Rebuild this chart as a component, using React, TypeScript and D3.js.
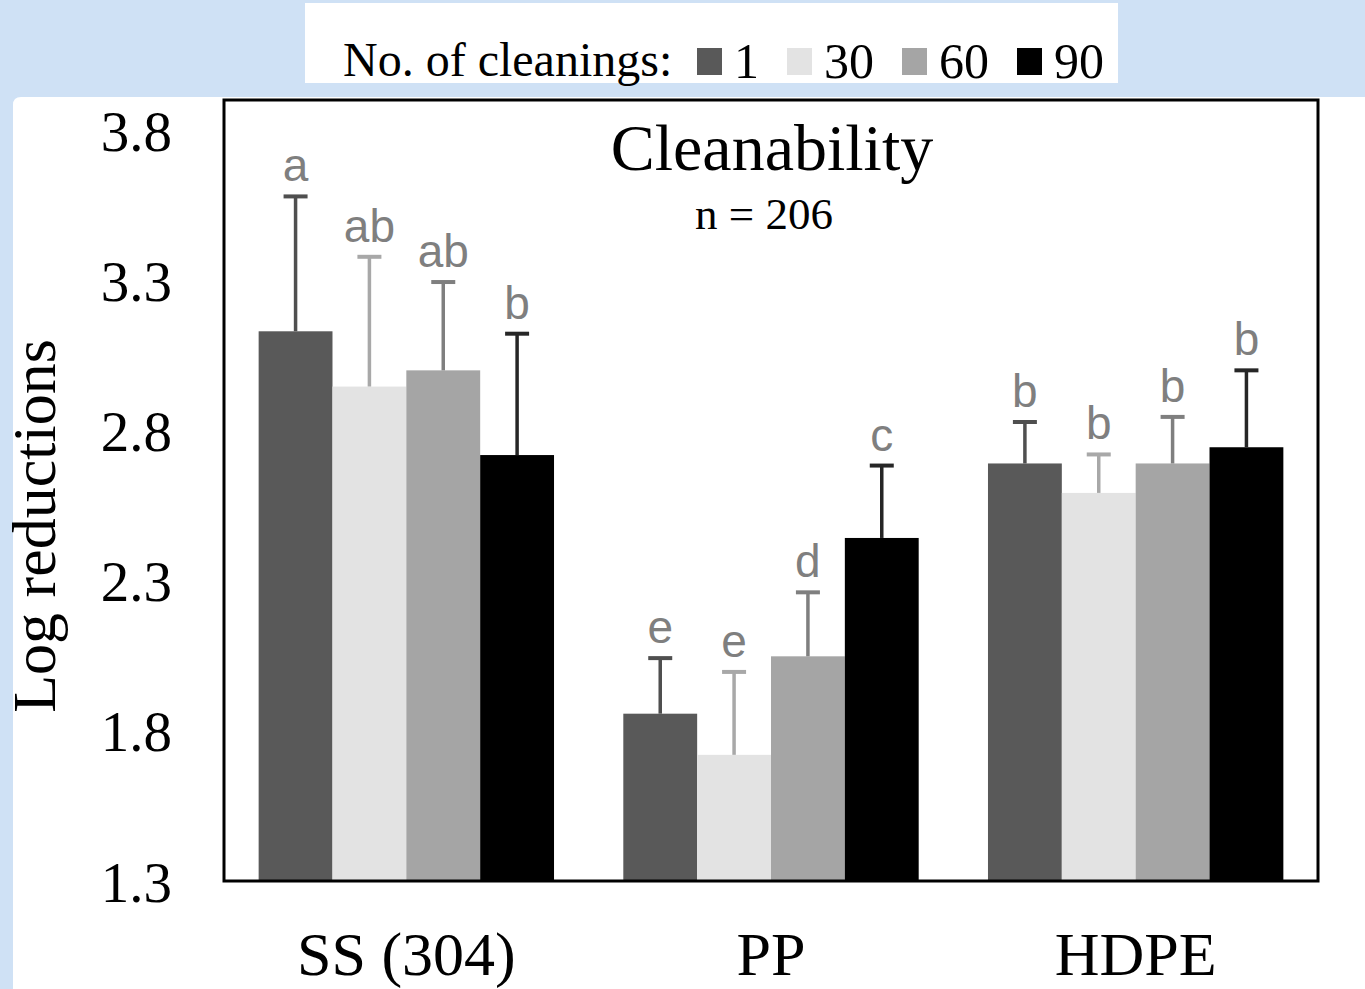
import React from "react";
import * as d3 from "d3";

// Surfaces and cleaning counts
const materials = ["SS (304)", "PP", "HDPE"];
const cleanings = ["1", "30", "60", "90"];

// Mean log reductions per material, one array per cleaning count
const mean1 = [3.13, 1.857, 2.69];
const mean30 = [2.946, 1.72, 2.592];
const mean60 = [3.0, 2.048, 2.69];
const mean90 = [2.718, 2.442, 2.744];

// Upper end of the error bars (mean + SD)
const upper1 = [3.579, 2.042, 2.828];
const upper30 = [3.378, 1.996, 2.72];
const upper60 = [3.294, 2.261, 2.845];
const upper90 = [3.122, 2.683, 3.0];

// Significance letters
const letters1 = ["a", "e", "b"];
const letters30 = ["ab", "e", "b"];
const letters60 = ["ab", "d", "b"];
const letters90 = ["b", "c", "b"];

const yTicks = [1.3, 1.8, 2.3, 2.8, 3.3, 3.8];

const barFill = ["#595959", "#e3e3e3", "#a5a5a5", "#000000"];
const errColor = ["#4f4f4f", "#a8a8a8", "#7f7f7f", "#262626"];

const means = [mean1, mean30, mean60, mean90];
const uppers = [upper1, upper30, upper60, upper90];
const letters = [letters1, letters30, letters60, letters90];

const W = 1365;
const H = 989;
const plot = { left: 224, right: 1318, top: 100, bottom: 881 };

const serif = "'Liberation Serif', 'Times New Roman', serif";
const sans = "'Liberation Sans', Arial, sans-serif";

export default function App() {
  const y = d3.scaleLinear().domain([1.3, 3.9]).range([plot.bottom, plot.top]);
  const x0 = d3
    .scaleBand<string>()
    .domain(materials)
    .range([plot.left, plot.right])
    .paddingInner(0.19)
    .paddingOuter(0.095);
  const x1 = d3.scaleBand<string>().domain(cleanings).range([0, x0.bandwidth()]);

  const capW = 24;

  return (
    <svg
      width={W}
      height={H}
      style={{ position: "absolute", left: 0, top: 0, background: "#cfe1f5" }}
    >
      {/* panels */}
      <rect x={305} y={3} width={813} height={80} fill="#ffffff" />
      <path
        d={`M13,${H} L13,105 Q13,97 21,97 L${W},97 L${W},${H} Z`}
        fill="#ffffff"
      />

      {/* legend */}
      <text x={343} y={76} fontFamily={serif} fontSize={48} fill="#000">
        No. of cleanings:
      </text>
      {cleanings.map((c, i) => {
        const lx = [697, 787, 902, 1017][i];
        return (
          <g key={c}>
            <rect x={lx} y={48} width={25} height={27} fill={barFill[i]} />
            <text x={lx + 37} y={78} fontFamily={serif} fontSize={50} fill="#000">
              {c}
            </text>
          </g>
        );
      })}

      {/* bars */}
      {materials.map((m, mi) => (
        <g key={m} transform={`translate(${x0(m)},0)`}>
          {cleanings.map((c, si) => {
            const bx = x1(c)!;
            const bw = x1.bandwidth();
            const v = means[si][mi];
            const u = uppers[si][mi];
            const cx = bx + bw / 2;
            return (
              <g key={c}>
                <rect
                  x={bx}
                  y={y(v)}
                  width={bw}
                  height={y(1.3) - y(v)}
                  fill={barFill[si]}
                />
                <line
                  x1={cx}
                  x2={cx}
                  y1={y(v)}
                  y2={y(u)}
                  stroke={errColor[si]}
                  strokeWidth={3.5}
                />
                <line
                  x1={cx - capW / 2}
                  x2={cx + capW / 2}
                  y1={y(u)}
                  y2={y(u)}
                  stroke={errColor[si]}
                  strokeWidth={4}
                />
                <text
                  x={cx}
                  y={y(u) - 15}
                  textAnchor="middle"
                  fontFamily={sans}
                  fontSize={46}
                  fill="#7f7f7f"
                >
                  {letters[si][mi]}
                </text>
              </g>
            );
          })}
        </g>
      ))}

      {/* frame */}
      <rect
        x={plot.left}
        y={plot.top}
        width={plot.right - plot.left}
        height={plot.bottom - plot.top}
        fill="none"
        stroke="#000"
        strokeWidth={3}
      />

      {/* y tick labels */}
      {yTicks.map((t) => (
        <text
          key={t}
          x={172}
          y={y(t)}
          dy="0.36em"
          textAnchor="end"
          fontFamily={serif}
          fontSize={57}
          fill="#000"
        >
          {d3.format(".1f")(t)}
        </text>
      ))}

      {/* x labels */}
      {materials.map((m) => (
        <text
          key={m}
          x={x0(m)! + x0.bandwidth() / 2}
          y={975}
          textAnchor="middle"
          fontFamily={serif}
          fontSize={62}
          fill="#000"
        >
          {m}
        </text>
      ))}

      {/* axis title */}
      <text
        transform="translate(55,526) rotate(-90)"
        textAnchor="middle"
        fontFamily={serif}
        fontSize={62}
        fill="#000"
      >
        Log reductions
      </text>

      {/* chart title */}
      <text
        x={772}
        y={170}
        textAnchor="middle"
        fontFamily={serif}
        fontSize={66}
        fill="#000"
      >
        Cleanability
      </text>
      <text
        x={764}
        y={229}
        textAnchor="middle"
        fontFamily={serif}
        fontSize={45}
        fill="#000"
      >
        n = 206
      </text>
    </svg>
  );
}
